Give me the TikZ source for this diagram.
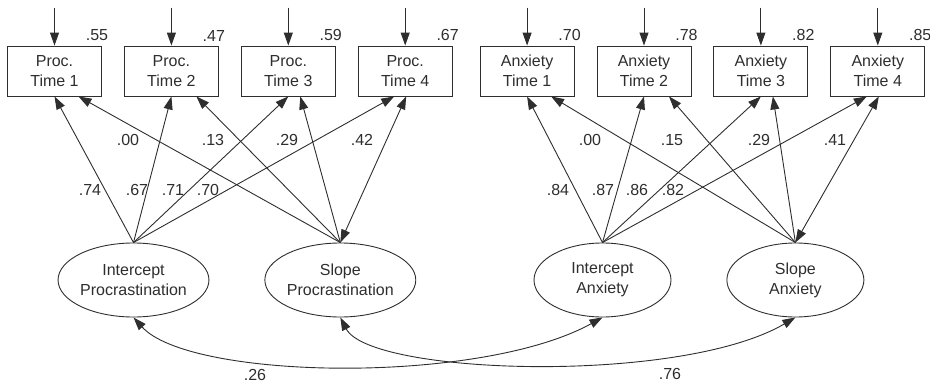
\documentclass[tikz,border=0pt]{standalone}
\usepackage{fontspec}
\setmainfont{Liberation Sans}
\usetikzlibrary{arrows.meta,calc,positioning,shapes.geometric}

\tikzset{
  obs/.style={draw,rectangle,minimum width=94pt,minimum height=50pt,align=center,inner sep=0pt},
  lat/.style={draw,ellipse,minimum width=137pt,minimum height=74pt,align=center,inner sep=0pt},
  est/.style={inner sep=0pt},
  arr/.style={-{Triangle[length=13pt,width=9pt]}},
  arrtwo/.style={{Triangle[length=13pt,width=9pt]}-{Triangle[length=13pt,width=9pt]}}
}

\begin{document}
\begin{tikzpicture}[x=1pt,y=-1pt,line width=0.9pt,color=black!82,
  font=\fontsize{16}{20}\selectfont,node distance=22pt]
\useasboundingbox (0,0) rectangle (930,383);

\node[obs] (p1) at (54.5,71) {Proc.\\Time 1};
\node[obs,right=of p1] (p2) {Proc.\\Time 2};
\node[obs,right=of p2] (p3) {Proc.\\Time 3};
\node[obs,right=of p3] (p4) {Proc.\\Time 4};
\node[obs,right=27pt of p4] (a1) {Anxiety\\Time 1};
\node[obs,right=of a1] (a2) {Anxiety\\Time 2};
\node[obs,right=of a2] (a3) {Anxiety\\Time 3};
\node[obs,right=of a3] (a4) {Anxiety\\Time 4};

\node[lat] (ip) at (133.5,280) {Intercept\\Procrastination};
\node[lat,right=55pt of ip] (sp) {Slope\\Procrastination};
\node[lat] (ia) at (602.5,280) {Intercept\\Anxiety};
\node[lat,right=55pt of ia] (sa) {Slope\\Anxiety};

\coordinate (ep1) at ($(p1.north)+(0,-38)$);
\coordinate (ep2) at ($(p2.north)+(0,-38)$);
\coordinate (ep3) at ($(p3.north)+(0,-38)$);
\coordinate (ep4) at ($(p4.north)+(0,-38)$);
\coordinate (ea1) at ($(a1.north)+(0,-38)$);
\coordinate (ea2) at ($(a2.north)+(0,-38)$);
\coordinate (ea3) at ($(a3.north)+(0,-38)$);
\coordinate (ea4) at ($(a4.north)+(0,-38)$);
\draw[arr] (ep1) -- (p1);
\draw[arr] (ep2) -- (p2);
\draw[arr] (ep3) -- (p3);
\draw[arr] (ep4) -- (p4);
\draw[arr] (ea1) -- (a1);
\draw[arr] (ea2) -- (a2);
\draw[arr] (ea3) -- (a3);
\draw[arr] (ea4) -- (a4);

\node[est,anchor=south] (vp1) at ($(p1.north east)+(-5,-4)$) {.55};
\node[est,anchor=south] (vp2) at ($(p2.north east)+(-5,-4)$) {.47};
\node[est,anchor=south] (vp3) at ($(p3.north east)+(-5,-4)$) {.59};
\node[est,anchor=south] (vp4) at ($(p4.north east)+(-5,-4)$) {.67};
\node[est,anchor=south] (va1) at ($(a1.north east)+(-5,-4)$) {.70};
\node[est,anchor=south] (va2) at ($(a2.north east)+(-5,-4)$) {.78};
\node[est,anchor=south] (va3) at ($(a3.north east)+(-5,-4)$) {.82};
\node[est,anchor=south] (va4) at ($(a4.north east)+(-5,-4)$) {.85};

\draw[arr] (ip.north) -- (p1.south);
\draw[arr] (ip.north) -- (p2.south);
\draw[arr] (ip.north) -- (p3.south);
\draw[arr] (ip.north) -- ($(p4.south)+(-11,0)$);
\draw[arr] (sp.north) -- ($(p1.south)+(24,0)$);
\draw[arr] (sp.north) -- ($(p2.south)+(25,0)$);
\draw[arr] (sp.north) -- ($(p3.south)+(12,0)$);
\draw[arrtwo] (sp.north) -- ($(p4.south)+(1,0)$);
\draw[arr] (ia.north) -- (a1.south);
\draw[arr] (ia.north) -- (a2.south);
\draw[arr] (ia.north) -- (a3.south);
\draw[arr] (ia.north) -- ($(a4.south)+(-11,0)$);
\draw[arr] (sa.north) -- ($(a1.south)+(24,0)$);
\draw[arr] (sa.north) -- ($(a2.south)+(25,0)$);
\draw[arr] (sa.north) -- ($(a3.south)+(12,0)$);
\draw[arrtwo] (sa.north) -- ($(a4.south)+(1,0)$);

\node[est] (lip1) at (90,190) {.74};
\node[est] (lip2) at (137,190) {.67};
\node[est] (lip3) at (173,190) {.71};
\node[est] (lip4) at (208,190) {.70};
\node[est] (lsp1) at (128,140) {.00};
\node[est] (lsp2) at (213,140) {.13};
\node[est] (lsp3) at (287,140) {.29};
\node[est] (lsp4) at (362,140) {.42};
\node[est] (lia1) at (558,190) {.84};
\node[est] (lia2) at (603,190) {.87};
\node[est] (lia3) at (637,190) {.86};
\node[est] (lia4) at (673,190) {.82};
\node[est] (lsa1) at (590,140) {.00};
\node[est] (lsa2) at (672,140) {.15};
\node[est] (lsa3) at (759,140) {.29};
\node[est] (lsa4) at (835,140) {.41};

\draw[arrtwo] (ip.south) .. controls (190,380) and (480,385) .. (ia.south);
\draw[arrtwo] (sp.south) .. controls (370,375) and (680,385) .. (sa.south);
\node[est] (cint) at (255,375) {.26};
\node[est] (cslo) at (670,374) {.76};
\end{tikzpicture}
\end{document}
